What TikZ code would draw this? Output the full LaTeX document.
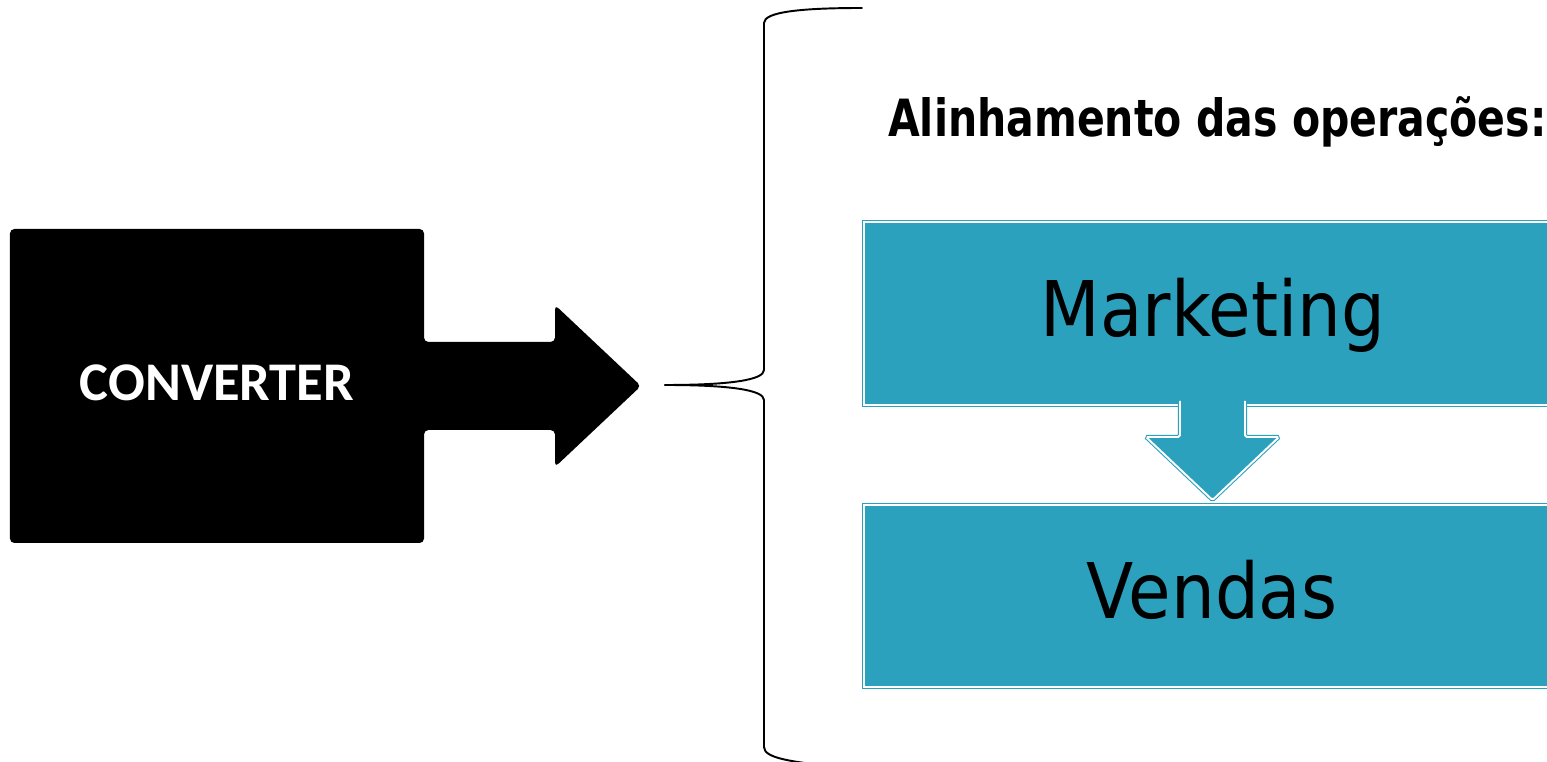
\documentclass[tikz,border=0pt]{standalone}
\usepackage{fontspec}
\newfontfamily\convfont{Carlito}
\newfontfamily\boxfont{DejaVu Sans}[FakeStretch=0.9]
\newfontfamily\headfont{DejaVu Sans}[FakeStretch=0.8]
\definecolor{boxteal}{RGB}{44,161,190}
\tikzset{
    tealbox/.style={fill=boxteal, draw=boxteal, double=white, double distance=1.1pt, line width=0.6pt},
    bracket/.style={line width=1.1pt, line cap=round}
}
\begin{document}
\begin{tikzpicture}
        \useasboundingbox (0, 0) rectangle (30.94, 15.24);
        % bloco preto com seta
        \fill [rounded corners=2.5pt] (0.2, 4.38) -- (0.2, 10.66) -- (8.48, 10.66) -- (8.48, 8.4) -- (11.1, 8.4) -- (11.1, 9.14)
            -- (12.82, 7.52) -- (11.1, 5.9) -- (11.1, 6.64) -- (8.48, 6.64) -- (8.48, 4.38) -- cycle;
        \node [text=white, font=\convfont\bfseries\fontsize{31}{38}\selectfont] (conv) at (4.34, 7.58) {CONVERTER};
        % chave
        \coordinate (bico) at (13.3, 7.54);
        \draw [bracket] (bico) .. controls (14.6, 7.54) and (15.28, 7.64) .. (15.28, 7.84) -- (15.28, 14.78)
            .. controls (15.28, 15.0) and (16.0, 15.08) .. (17.24, 15.08);
        \draw [bracket] (bico) .. controls (14.6, 7.54) and (15.28, 7.44) .. (15.28, 7.24) -- (15.28, 0.3)
            .. controls (15.28, 0.08) and (15.8, 0.0) .. (16.8, -0.1);
        \node [anchor=base west, font=\headfont\bfseries\fontsize{29.2}{34}\selectfont] (titulo) at (17.64, 12.5) {Alinhamento das opera\c{c}\~oes:};
        % caixas
        \draw [tealbox] (17.28, 7.14) rectangle (31.5, 10.8);
        \draw [tealbox] (17.28, 1.5) rectangle (31.5, 5.14);
        \draw [tealbox, rounded corners=1pt] (23.6, 7.22) -- (23.6, 6.5) -- (22.92, 6.5) -- (24.25, 5.24)
            -- (25.58, 6.5) -- (24.9, 6.5) -- (24.9, 7.22);
        \node [anchor=base, font=\boxfont\fontsize{43.7}{50}\selectfont] (mkt) at (24.26, 8.5) {Marketing};
        \node [anchor=base, font=\boxfont\fontsize{43.7}{50}\selectfont] (vendas) at (24.24, 2.86) {Vendas};
\end{tikzpicture}
\end{document}
